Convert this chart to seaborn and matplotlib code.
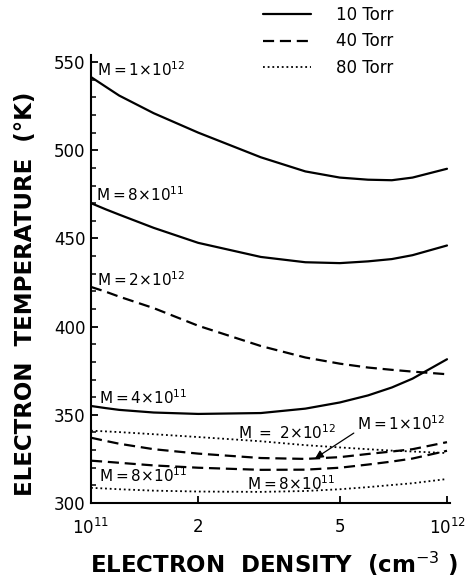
import numpy as np
import pandas as pd
import matplotlib
matplotlib.use("Agg")
import matplotlib.pyplot as plt
from matplotlib.ticker import MultipleLocator, FixedLocator, FixedFormatter, NullLocator
import seaborn as sns

density = [1.0e11, 1.1e11, 1.2e11, 1.5e11, 2e11, 3e11, 4e11, 5e11, 6e11, 7e11, 8e11, 1.0e12]

# electron temperature (K), one list per pressure / M value
t10_m1e12 = [541.5, 536, 531, 521, 510, 496, 488, 484.5, 483.3, 483, 484.5, 489.5]
t10_m8e11 = [470, 466.5, 463.5, 456, 447.5, 439.5, 436.5, 436, 437, 438.3, 440.5, 446]
t10_m4e11 = [355, 353.8, 352.8, 351.3, 350.5, 351, 353.5, 357, 361, 365.5, 370.5, 381.5]
t40_m2e12 = [422.5, 419.8, 417, 410.5, 400.5, 389, 382.5, 379, 376.8, 375.5, 374.5, 373]
t40_m1e12 = [337, 335.2, 333.6, 330.5, 328, 325.5, 325, 326, 327.8, 329.2, 330.5, 334.5]
t40_m8e11 = [324, 323.4, 322.8, 321.3, 320, 318.8, 318.9, 320, 321.8, 323.5, 325.2, 329.6]
t80_m2e12 = [341, 340.6, 340.2, 339, 337.4, 335, 332.8, 331.5, 330.5, 329.7, 329.2, 328.3]
t80_m8e11 = [308.6, 308.2, 307.8, 307, 306.5, 306.3, 306.8, 307.8, 309, 310.2, 311.2, 313.6]

curves = [
    ("10 Torr", t10_m1e12),
    ("10 Torr", t10_m8e11),
    ("10 Torr", t10_m4e11),
    ("40 Torr", t40_m2e12),
    ("40 Torr", t40_m1e12),
    ("40 Torr", t40_m8e11),
    ("80 Torr", t80_m2e12),
    ("80 Torr", t80_m8e11),
]

styles = {
    "10 Torr": dict(linestyle="-", linewidth=1.6),
    "40 Torr": dict(linestyle=(0, (5, 2.6)), linewidth=1.6),
    "80 Torr": dict(linestyle=(0, (1, 1.6)), linewidth=1.3),
}

sns.set_style("ticks")
plt.rcParams["font.family"] = ["DejaVu Sans"]
plt.rcParams["mathtext.fontset"] = "dejavusans"
for key in ["text.color", "axes.labelcolor", "xtick.color", "ytick.color", "axes.edgecolor"]:
    plt.rcParams[key] = "black"

fig = plt.figure(figsize=(4.71, 5.81), dpi=100)
ax = fig.add_axes([91 / 471, 78 / 581, 359 / 471, 448 / 581])

seen = set()
for pressure, temps in curves:
    df = pd.DataFrame({"density": density, "temperature": temps})
    label = pressure if pressure not in seen else None
    seen.add(pressure)
    sns.lineplot(data=df, x="density", y="temperature", ax=ax, color="black",
                 label=label, legend=False, **styles[pressure])

ax.set_xscale("log")
ax.set_xlim(1e11, 1.0196e12)
ax.set_ylim(300, 554)

ax.xaxis.set_major_locator(FixedLocator([1e11, 2e11, 5e11, 1e12]))
ax.xaxis.set_major_formatter(FixedFormatter(["10$^{11}$", "2", "5", "10$^{12}$"]))
ax.xaxis.set_minor_locator(NullLocator())
ax.yaxis.set_major_locator(FixedLocator([300, 350, 400, 450, 500, 550]))
ax.yaxis.set_minor_locator(MultipleLocator(10))

ax.tick_params(axis="both", which="major", direction="in", length=5, width=1.3,
               labelsize=12)
ax.tick_params(axis="x", which="major", pad=10.5)
ax.tick_params(axis="y", which="major", pad=4)
ax.tick_params(axis="y", which="minor", direction="in", length=3.5, width=1.1)

for side in ["top", "right"]:
    ax.spines[side].set_visible(False)
for side in ["left", "bottom"]:
    ax.spines[side].set_linewidth(1.5)

ax.set_xlabel("ELECTRON  DENSITY  (cm$^{-3}$ )", fontsize=16.5, fontweight="bold")
ax.set_ylabel("ELECTRON  TEMPERATURE  (°K)", fontsize=16.5, fontweight="bold")
ax.xaxis.set_label_coords(0.511, -0.105)
ax.yaxis.set_label_coords(-0.151, 0.466)

# curve labels
label_kw = dict(fontsize=11, va="baseline", ha="left")
ax.text(1.04e11, 542, "M$=$1$\\times$10$^{12}$", **label_kw)
ax.text(1.03e11, 471, "M$=$8$\\times$10$^{11}$", **label_kw)
ax.text(1.04e11, 423, "M$=$2$\\times$10$^{12}$", **label_kw)
ax.text(1.05e11, 356, "M$=$4$\\times$10$^{11}$", **label_kw)
ax.text(2.59e11, 336.5, "M $=$ 2$\\times$10$^{12}$", **label_kw)
ax.text(1.05e11, 312, "M$=$8$\\times$10$^{11}$", **label_kw)
ax.text(2.75e11, 307.5, "M$=$8$\\times$10$^{11}$", **label_kw)
ax.annotate("M$=$1$\\times$10$^{12}$", xy=(4.26e11, 325.3), xytext=(5.59e11, 341.5),
            fontsize=11, va="baseline", ha="left",
            arrowprops=dict(arrowstyle="-|>", color="black", lw=0.9,
                            shrinkA=0, shrinkB=0, mutation_scale=12,
                            relpos=(0, 0.1)))

handles, labels = ax.get_legend_handles_labels()
fig.legend(handles, labels, loc="upper left", bbox_to_anchor=(263 / 471, 1 - 6 / 581),
           frameon=False, fontsize=12, handlelength=2.9, handletextpad=1.5,
           labelspacing=0.5, borderpad=0, borderaxespad=0)

fig.savefig("out.png", dpi=100)
